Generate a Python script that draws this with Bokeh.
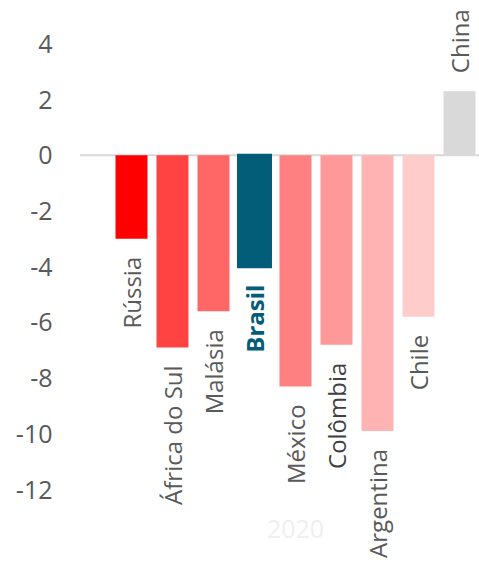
import numpy as np
from bokeh.plotting import figure
from bokeh.models import ColumnDataSource, Range1d, FixedTicker, Span, Label, CustomJSTickFormatter
from bokeh.core.properties import value
from bokeh.embed import file_html
from bokeh.resources import INLINE

# ---- data ----
countries = ["Rússia", "África do Sul", "Malásia", "Brasil", "México",
             "Colômbia", "Argentina", "Chile", "China"]
values = [-3.0, -6.9, -5.6, -4.0, -8.3, -6.8, -9.9, -5.8, 2.3]
bar_colors = ["#FF0000", "#FF4242", "#FF6666", "#035C78", "#FF8080",
              "#FF9999", "#FFB3B3", "#FFCCCC", "#D9D9D9"]
label_colors = ["#595959", "#595959", "#595959", "#035C78", "#595959",
                "#404040", "#595959", "#595959", "#595959"]
label_styles = ["normal", "normal", "normal", "bold", "normal",
                "normal", "normal", "normal", "normal"]
y_ticks = [-12, -10, -8, -6, -4, -2, 0, 2, 4]
category = "2020"

FONT = "Open Sans"
px_per_unit = 27.86
gap = 18 / px_per_unit

xs = np.arange(len(countries))
vals = np.array(values)
label_y = np.where(vals < 0, vals - gap, vals + gap)
label_align = ["right" if v < 0 else "left" for v in values]
line_w = [3 if c == "Brasil" else 0 for c in countries]

src = ColumnDataSource(dict(
    x=xs, top=vals, color=bar_colors, name=countries, ly=label_y,
    lcolor=label_colors, lstyle=label_styles, lalign=label_align, lw=line_w,
))

p = figure(width=479, height=567, output_backend="svg", toolbar_location=None,
           x_range=Range1d(-1.268, 8.488), y_range=Range1d(-14.80, 5.554),
           min_border_left=79, min_border_right=0, min_border_top=0,
           min_border_bottom=0)
p.xaxis.visible = False
p.xgrid.visible = False
p.ygrid.visible = False
p.outline_line_color = None
p.background_fill_color = "white"
p.border_fill_color = "white"

ax = p.yaxis[0]
ax.ticker = FixedTicker(ticks=y_ticks)
ax.formatter = CustomJSTickFormatter(code="return tick.toString();")
ax.axis_line_color = None
ax.major_tick_line_color = None
ax.minor_tick_line_color = None
ax.major_tick_out = 0
ax.major_tick_in = 0
ax.major_label_standoff = 27
ax.major_label_text_font = FONT
ax.major_label_text_font_size = "25px"
ax.major_label_text_color = "#595959"

zero = Span(location=0, dimension="width", line_color="#D9D9D9",
            line_width=2, level="underlay")
p.add_layout(zero)

p.vbar(x="x", top="top", bottom=0, width=0.78, fill_color="color",
       line_color="color", line_width="lw", line_join="miter", source=src)

p.text(x="x", y="ly", text="name", angle=np.pi / 2, text_align="lalign",
       text_baseline="middle", text_font=value(FONT), text_font_size="24px",
       text_color="lcolor", text_font_style="lstyle", source=src)

lbl = Label(x=float(np.mean(xs)), y=-13.4, text=category,
            text_align="center", text_baseline="middle",
            text_font=FONT, text_font_size="25px", text_color="#EFEFEF")
p.add_layout(lbl)

open("out.html", "w").write(file_html(p, INLINE))
